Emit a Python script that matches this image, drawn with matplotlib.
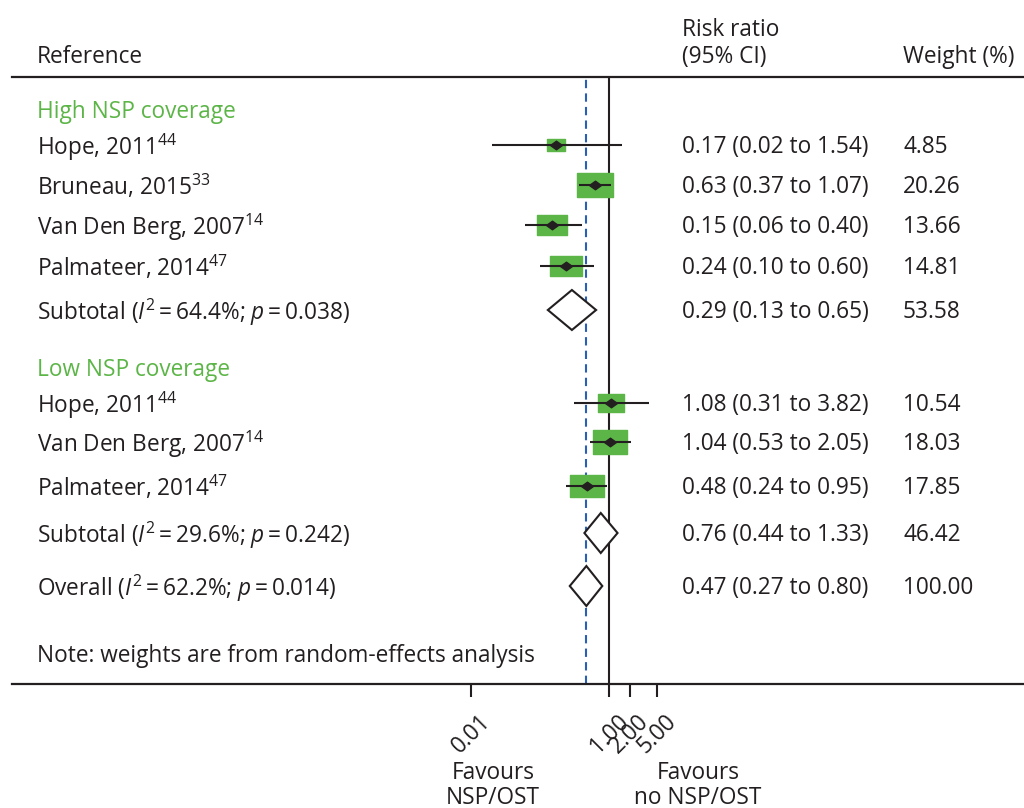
import numpy as np
import matplotlib
matplotlib.use("Agg")
import matplotlib.pyplot as plt
from matplotlib.path import Path
from matplotlib.patches import Polygon
from matplotlib.transforms import blended_transform_factory
from matplotlib.ticker import NullLocator, FixedLocator, FixedFormatter

# ---------------- data ----------------
group_names = ["High NSP coverage", "Low NSP coverage"]

study_labels = [r"Hope, 201$1^{44}$", r"Bruneau, 201$5^{33}$",
                r"Van Den Berg, 200$7^{14}$", r"Palmateer, 201$4^{47}$",
                r"Hope, 201$1^{44}$", r"Van Den Berg, 200$7^{14}$",
                r"Palmateer, 201$4^{47}$"]
study_rr = [0.17, 0.63, 0.15, 0.24, 1.08, 1.04, 0.48]
study_lo = [0.02, 0.37, 0.06, 0.10, 0.31, 0.53, 0.24]
study_hi = [1.54, 1.07, 0.40, 0.60, 3.82, 2.05, 0.95]
study_weight = [4.85, 20.26, 13.66, 14.81, 10.54, 18.03, 17.85]

summary_labels = ["Subtotal ($\\mathit{I}^{2}$\u2009=\u200964.4%; $\\mathit{p}$\u2009=\u20090.038)",
                  "Subtotal ($\\mathit{I}^{2}$\u2009=\u200929.6%; $\\mathit{p}$\u2009=\u20090.242)",
                  "Overall ($\\mathit{I}^{2}$\u2009=\u200962.2%; $\\mathit{p}$\u2009=\u20090.014)"]
summary_rr = [0.29, 0.76, 0.47]
summary_lo = [0.13, 0.44, 0.27]
summary_hi = [0.65, 1.33, 0.80]
summary_weight = [53.58, 46.42, 100.00]

tick_values = [0.01, 1.0, 2.0, 5.0]
tick_labels = ["0.01", "1.00", "2.00", "5.00"]

note_text = "Note: weights are from random-effects analysis"

# ---------------- layout (pixel rows from top) ----------------
W, H = 1024, 808
group_rows = [110, 368]
study_rows = [145, 185, 225, 266, 403, 442, 486]
summary_rows = [310, 533, 586]
note_row = 654
top_line, bottom_line = 77, 684
x_left, x_one, px_per_decade = 12, 609, 69.0
col_label, col_rr, col_w = 37, 682, 903
text_dy = 2

INK = "#231f20"
GREEN = "#5cb547"
BLUE = "#2b5fb4"
FS = 16.3

plt.rcParams["font.family"] = ["Open Sans", "DejaVu Sans"]
plt.rcParams["mathtext.fontset"] = "custom"
plt.rcParams["mathtext.rm"] = "Open Sans"
plt.rcParams["mathtext.it"] = "Open Sans:italic"
plt.rcParams["mathtext.bf"] = "Open Sans:bold"
plt.rcParams["mathtext.default"] = "regular"

fig = plt.figure(figsize=(W / 100, H / 100), dpi=100)
ax = fig.add_axes([x_left / W, 1 - bottom_line / H, 1 - x_left / W,
                   (bottom_line - top_line) / H])
ax.set_xscale("log")
ax.set_xlim(10 ** ((x_left - x_one) / px_per_decade),
            10 ** ((W - x_one) / px_per_decade))
ax.set_ylim(bottom_line, top_line)
ax.patch.set_alpha(0)

for s in ["left", "right"]:
    ax.spines[s].set_visible(False)
for s in ["top", "bottom"]:
    ax.spines[s].set_linewidth(1.6)
    ax.spines[s].set_color(INK)

ax.yaxis.set_visible(False)
ax.xaxis.set_major_locator(FixedLocator(tick_values))
ax.xaxis.set_major_formatter(FixedFormatter(tick_labels))
ax.xaxis.set_minor_locator(NullLocator())
ax.tick_params(axis="x", direction="out", length=9.5, width=1.5, color=INK,
               labelsize=FS, labelcolor=INK, pad=9)
for lab in ax.get_xticklabels():
    lab.set_rotation(45)

# reference lines
ax.axvline(1.0, color=INK, lw=1.5, zorder=1)
ax.axvline(summary_rr[-1], color=BLUE, lw=1.5, ls=(0, (4, 2.5)), zorder=1)

# boxes
rect = Path([(-1, -0.66), (1, -0.66), (1, 0.66), (-1, 0.66), (-1, -0.66)],
            [Path.MOVETO, Path.LINETO, Path.LINETO, Path.LINETO, Path.CLOSEPOLY])
diam = Path([(-1, 0), (0, 0.72), (1, 0), (0, -0.72), (-1, 0)],
            [Path.MOVETO, Path.LINETO, Path.LINETO, Path.LINETO, Path.CLOSEPOLY])
box_scale = 26.6 / np.sqrt(20.26)
for y, r, lo, hi, w in zip(study_rows, study_rr, study_lo, study_hi, study_weight):
    ax.plot([r], [y], marker=rect, ms=box_scale * np.sqrt(w), color=GREEN,
            mec=GREEN, ls="none", zorder=2)
    ax.plot([lo, hi], [y, y], color=INK, lw=1.5, solid_capstyle="butt", zorder=3)
    ax.plot([r], [y], marker=diam, ms=8.6, color=INK, ls="none", zorder=4)

# summary diamonds
for y, r, lo, hi in zip(summary_rows, summary_rr, summary_lo, summary_hi):
    poly = Polygon([(lo, y), (r, y - 20), (hi, y), (r, y + 20)], closed=True,
                   facecolor="white", edgecolor=INK, lw=1.5, zorder=5)
    ax.add_patch(poly)

# texts
tr = blended_transform_factory(fig.transFigure, ax.transData)

def put(xpx, y, s, color=INK, ha="left", **kw):
    ax.text(xpx / W, y + text_dy, s, transform=tr, ha=ha, va="center",
            fontsize=FS, color=color, clip_on=False, **kw)

put(col_label, 55, "Reference")
put(col_rr, 28, "Risk ratio")
put(col_rr, 55, "(95% CI)")
put(col_w, 55, "Weight (%)")

for y, g in zip(group_rows, group_names):
    put(col_label, y, g, color=GREEN)

for y, lab, r, lo, hi, w in zip(study_rows, study_labels, study_rr, study_lo,
                                study_hi, study_weight):
    put(col_label, y, lab)
    put(col_rr, y, f"{r:.2f} ({lo:.2f} to {hi:.2f})")
    put(col_w, y, f"{w:.2f}")

for y, lab, r, lo, hi, w in zip(summary_rows, summary_labels, summary_rr,
                                summary_lo, summary_hi, summary_weight):
    put(col_label, y, lab)
    put(col_rr, y, f"{r:.2f} ({lo:.2f} to {hi:.2f})")
    put(col_w, y, f"{w:.2f}")

put(col_label, note_row, note_text)

for xc, lines in [(493, ["Favours", "NSP/OST"]), (698, ["Favours", "no NSP/OST"])]:
    for yy, s in zip([773, 798], lines):
        ax.text(xc / W, yy, s, transform=tr, ha="center", va="center",
                fontsize=FS, color=INK, clip_on=False)

fig.savefig("out.png", dpi=100)
